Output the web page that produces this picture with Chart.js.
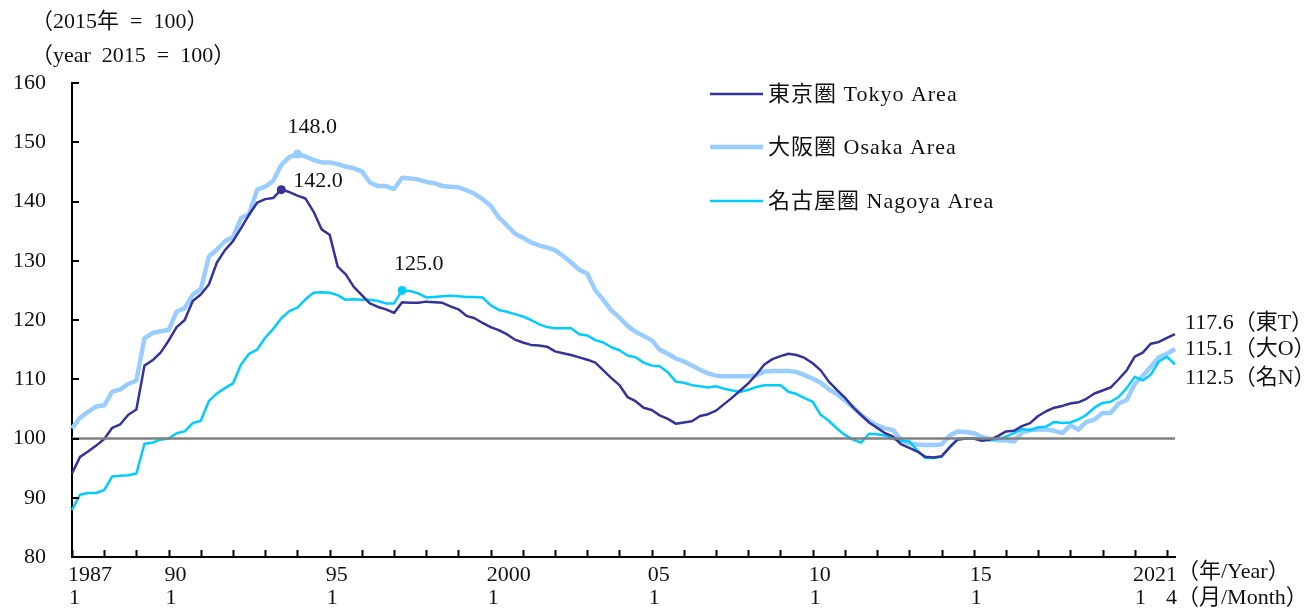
<!DOCTYPE html>
<html>
<head>
<meta charset="utf-8">
<script src="https://cdn.jsdelivr.net/npm/chart.js@4.4.1/dist/chart.umd.min.js"></script>
<style>
  html, body { margin: 0; padding: 0; background: #fff; }
</style>
</head>
<body>
<canvas id="chart" width="1310" height="610"></canvas>
<script>
  const FONT = '"Liberation Serif", "Noto Sans CJK JP", serif';

  // Quarterly categories, 1987/1 .. 2021/4
  const quarters = [];
  for (let yr = 1987; yr <= 2021; yr++) {
    for (const m of [1, 4, 7, 10]) {
      if (yr === 2021 && m > 4) break;
      quarters.push(yr + "/" + m);
    }
  }

  // 東京圏 Tokyo Area (2015 = 100)
  const tokyo = [
    94.1, 96.9, 97.8, 98.8,
    99.9, 101.8, 102.4, 104.0,
    104.9, 112.3, 113.2, 114.5,
    116.5, 118.8, 120.0, 123.2,
    124.3, 126.0, 129.7, 131.8,
    133.3, 135.5, 137.8, 139.8,
    140.4, 140.6, 142.0, 141.6,
    141.0, 140.5, 138.3, 135.3,
    134.4, 129.0, 127.7, 125.6,
    124.2, 122.8, 122.2, 121.8,
    121.2, 123.0, 122.9, 122.9,
    123.1, 123.0, 122.9, 122.3,
    121.8, 120.7, 120.3, 119.5,
    118.8, 118.3, 117.6, 116.7,
    116.2, 115.8, 115.7, 115.5,
    114.7, 114.4, 114.1, 113.7,
    113.3, 112.8, 111.5, 110.2,
    109.0, 107.0, 106.3, 105.2,
    104.8, 103.9, 103.3, 102.5,
    102.7, 102.9, 103.8, 104.1,
    104.7, 105.8, 106.9, 108.1,
    109.3, 110.8, 112.5, 113.4,
    113.9, 114.3, 114.1, 113.6,
    112.7, 111.5, 109.6, 108.2,
    106.9, 105.3, 104.0, 102.7,
    101.8, 100.9, 100.3, 99.0,
    98.4, 97.8, 96.9, 96.8,
    97.0, 98.5, 99.8, 100.0,
    100.0, 99.6, 99.8, 100.4,
    101.2, 101.3, 102.1, 102.6,
    103.8, 104.6, 105.2, 105.5,
    105.9, 106.1, 106.7, 107.6,
    108.1, 108.6, 110.0, 111.5,
    113.8, 114.5, 116.0, 116.3,
    117.0, 117.6
  ];

  // 大阪圏 Osaka Area
  const osaka = [
    101.7, 103.5, 104.5, 105.4,
    105.6, 107.9, 108.3, 109.2,
    109.8, 116.9, 117.8, 118.1,
    118.3, 121.4, 122.0, 124.3,
    125.2, 130.7, 131.9, 133.3,
    134.0, 137.2, 137.9, 142.0,
    142.5, 143.5, 146.2, 147.5,
    148.0, 147.6, 147.0, 146.6,
    146.6, 146.3, 145.9, 145.6,
    145.1, 143.2, 142.6, 142.6,
    142.1, 144.0, 143.9, 143.7,
    143.3, 143.1, 142.6, 142.5,
    142.4, 141.9, 141.3, 140.4,
    139.3, 137.3, 136.0, 134.6,
    133.9, 133.1, 132.6, 132.2,
    131.8, 130.8, 129.7, 128.5,
    127.8, 125.0, 123.4, 121.6,
    120.4, 119.0, 118.0, 117.3,
    116.6, 115.0, 114.3, 113.5,
    113.0, 112.3, 111.6, 111.0,
    110.6, 110.5, 110.5, 110.5,
    110.5, 110.7, 111.3, 111.4,
    111.4, 111.4, 111.2, 110.7,
    110.1, 109.4, 108.3, 107.5,
    106.4, 105.3, 104.0, 103.0,
    102.2, 101.7, 101.4, 99.7,
    99.2, 99.0, 98.9, 98.9,
    99.0, 100.5, 101.2, 101.1,
    100.9, 100.3, 99.9, 99.7,
    99.7, 99.5, 101.0, 101.4,
    101.5, 101.5, 101.3, 100.9,
    102.2, 101.5, 102.8, 103.2,
    104.3, 104.3, 105.9, 106.5,
    109.2, 110.6, 112.1, 113.7,
    114.3, 115.1
  ];

  // 名古屋圏 Nagoya Area
  const nagoya = [
    87.9, 90.5, 90.8, 90.8,
    91.3, 93.6, 93.7, 93.8,
    94.1, 99.1, 99.3, 99.8,
    100.0, 100.9, 101.2, 102.6,
    103.0, 106.3, 107.6, 108.5,
    109.3, 112.5, 114.3, 115.0,
    117.0, 118.5, 120.3, 121.5,
    122.1, 123.5, 124.6, 124.7,
    124.6, 124.2, 123.4, 123.5,
    123.4, 123.4, 123.2, 122.8,
    122.8, 125.0, 124.9, 124.5,
    123.8, 123.9, 124.0, 124.1,
    124.0, 123.9, 123.9, 123.8,
    122.5, 121.7, 121.4, 121.0,
    120.6, 120.0, 119.3, 118.8,
    118.6, 118.6, 118.6, 117.6,
    117.4, 116.6, 116.2, 115.4,
    114.9, 114.0, 113.7, 112.8,
    112.3, 112.2, 111.2, 109.6,
    109.4, 109.0, 108.8, 108.6,
    108.8, 108.4, 108.1, 107.9,
    108.2, 108.7, 109.0, 109.0,
    109.0, 107.9, 107.5, 106.8,
    106.2, 104.0, 103.0, 101.7,
    100.6, 99.8, 99.3, 100.8,
    100.7, 100.5, 99.9, 99.6,
    99.5, 98.0, 96.7, 96.7,
    96.9, 98.5, 100.0, 100.0,
    100.0, 99.9, 99.7, 99.9,
    100.3, 100.9, 101.6, 101.4,
    101.9, 102.0, 102.8, 102.6,
    102.7, 103.2, 104.0, 105.2,
    106.0, 106.2, 107.0, 108.5,
    110.4, 109.8, 110.8, 113.0,
    113.8, 112.5
  ];

  const seriesNames = ["東京圏 Tokyo Area", "大阪圏 Osaka Area", "名古屋圏 Nagoya Area"];
  const seriesColors = ["#333399", "#99ccff", "#00ccff"];
  const seriesWidths = [2.5, 4.5, 2.5];

  // peak markers
  const peakAt = ["1993/7", "1994/1", "1997/4"];
  const peakValues = [142.0, 148.0, 125.0];
  const peakLabels = ["142.0", "148.0", "125.0"];

  // latest values at the right edge
  const endLabels = ["117.6（東T）", "115.1（大O）", "112.5（名N）"];
  const endValues = [117.6, 115.1, 112.5];

  // x axis labels
  const xYearAt = ["1987/1", "1990/1", "1995/1", "2000/1", "2005/1", "2010/1", "2015/1", "2021/1"];
  const xYearText = ["1987", "90", "95", "2000", "05", "10", "15", "2021"];

  const yTicks = [80, 90, 100, 110, 120, 130, 140, 150, 160];

  const overlay = {
    id: "overlay",
    afterDraw(chart) {
      const { ctx, chartArea: a, scales: { x, y } } = chart;
      ctx.save();

      // inward tick marks
      ctx.strokeStyle = "#000";
      ctx.lineWidth = 2;
      ctx.beginPath();
      yTicks.forEach((v) => {
        const py = Math.round(y.getPixelForValue(v));
        ctx.moveTo(a.left, py);
        ctx.lineTo(a.left + 7, py);
      });
      quarters.forEach((q, i) => {
        if (q.endsWith("/1")) {
          const px = Math.round(x.getPixelForValue(i)) + 0.5;
          ctx.moveTo(px, a.bottom);
          ctx.lineTo(px, a.bottom - 7);
        }
      });
      ctx.stroke();

      ctx.fillStyle = "#111";
      ctx.font = "22px " + FONT;
      ctx.textBaseline = "middle";

      // unit note (en spaces, like the original mincho text)
      ctx.textAlign = "left";
      ctx.fillText("（2015年\u2002=\u2002100）", 31, 22);
      ctx.fillText("（year\u20022015\u2002=\u2002100）", 31, 56);

      // x labels
      xYearText.forEach((t, i) => {
        const px = x.getPixelForValue(quarters.indexOf(xYearAt[i]));
        if (i === xYearText.length - 1) {
          ctx.textAlign = "right";
          ctx.fillText(t, a.right + 2, 575);
          const w = ctx.measureText(t).width;
          ctx.textAlign = "left";
          ctx.fillText("1", a.right + 2 - w + 2, 598);
          ctx.textAlign = "right";
          ctx.fillText("4", a.right + 2, 598);
        } else {
          ctx.textAlign = "left";
          ctx.fillText(t, px - 4, 575);
          ctx.fillText("1", px - 3, 598);
        }
      });
      ctx.textAlign = "left";
      ctx.fillText("（年/Year）", a.right + 2, 572);
      ctx.fillText("（月/Month）", a.right + 2, 598);

      // legend
      const legendY = [94, 147, 201];
      ctx.letterSpacing = "1px";
      seriesNames.forEach((n, i) => {
        ctx.strokeStyle = seriesColors[i];
        ctx.lineWidth = seriesWidths[i];
        ctx.beginPath();
        ctx.moveTo(710, legendY[i]);
        ctx.lineTo(763, legendY[i]);
        ctx.stroke();
        ctx.fillText(n, 768, legendY[i] + 1);
      });
      ctx.letterSpacing = "0px";

      // peak labels
      const peakOffsets = [[12, -8], [-10, -27], [-8, -26]];
      peakLabels.forEach((t, i) => {
        const px = x.getPixelForValue(quarters.indexOf(peakAt[i]));
        const py = y.getPixelForValue(peakValues[i]);
        ctx.fillText(t, px + peakOffsets[i][0], py + peakOffsets[i][1]);
      });

      // end labels
      const endOffsets = [-11, 0, 14];
      endLabels.forEach((t, i) => {
        ctx.fillText(t, a.right + 10, y.getPixelForValue(endValues[i]) + endOffsets[i]);
      });

      ctx.restore();
    },
  };

  const peakSets = peakAt.map((q, i) => ({
    data: [{ x: q, y: peakValues[i] }],
    showLine: false,
    pointRadius: 4.5,
    pointBackgroundColor: seriesColors[i],
    pointBorderWidth: 0,
  }));

  new Chart(document.getElementById("chart"), {
    type: "line",
    data: {
      labels: quarters,
      datasets: [
        ...peakSets,
        {
          data: [{ x: quarters[0], y: 100 }, { x: quarters[quarters.length - 1], y: 100 }],
          borderColor: "#808080",
          borderWidth: 2.5,
          pointRadius: 0,
        },
        { data: tokyo, borderColor: seriesColors[0], borderWidth: seriesWidths[0], pointRadius: 0 },
        { data: nagoya, borderColor: seriesColors[2], borderWidth: seriesWidths[2], pointRadius: 0 },
        { data: osaka, borderColor: seriesColors[1], borderWidth: seriesWidths[1], pointRadius: 0 },
      ],
    },
    options: {
      responsive: false,
      devicePixelRatio: 1,
      animation: false,
      layout: { padding: { top: 83, right: 135, left: 0, bottom: 0 } },
      plugins: { legend: { display: false }, tooltip: { enabled: false } },
      elements: { line: { tension: 0, borderJoinStyle: "round" } },
      scales: {
        x: {
          type: "category",
          offset: false,
          grid: { display: false, drawTicks: false },
          border: { display: true, color: "#000", width: 2 },
          ticks: { display: false },
          afterFit: (s) => { s.height = 53; },
        },
        y: {
          min: 80,
          max: 160,
          grid: { display: false, drawTicks: false },
          border: { display: true, color: "#000", width: 2 },
          ticks: {
            stepSize: 10,
            color: "#111",
            padding: 26,
            font: { family: FONT, size: 22 },
          },
          afterFit: (s) => { s.width = 72; },
        },
      },
    },
    plugins: [overlay],
  });
</script>
</body>
</html>
